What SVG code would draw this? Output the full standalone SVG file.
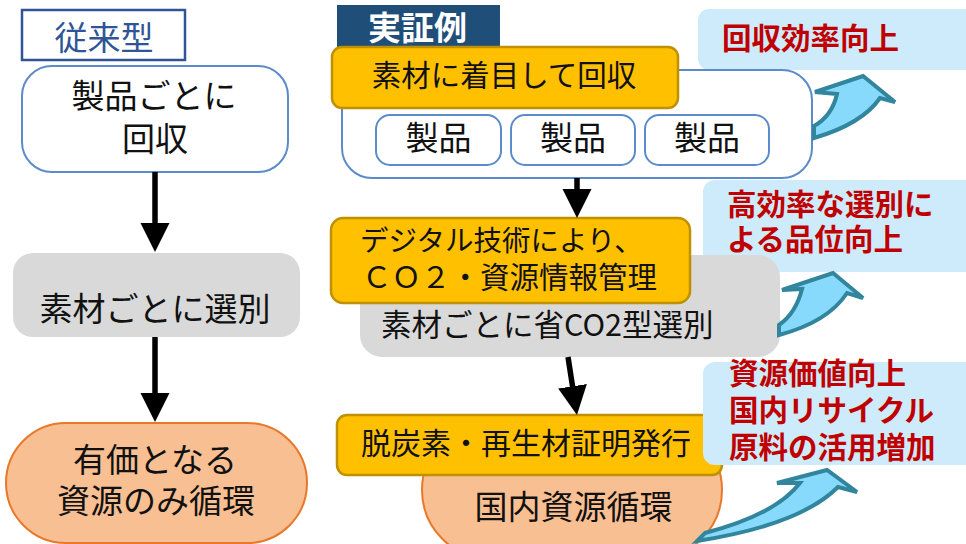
<svg xmlns="http://www.w3.org/2000/svg" width="966" height="544" viewBox="0 0 966 544">
<defs>
<style>
text{font-family:"Noto Sans CJK JP","Noto Sans",sans-serif;fill:#111}
.c{text-anchor:middle}
.callout{fill:#CDEBFA}
.ctext{font-weight:bold;fill:#C00000;font-size:29.5px}
.yel{fill:#FFC000;stroke:#BF9000;stroke-width:2.5}
.blue{fill:#fff;stroke:#5B8BC9;stroke-width:2}
.gray{fill:#D9D9D9}
.orange{fill:#F8BF92;stroke:#E8782A;stroke-width:2}
.conn{stroke:#000;stroke-width:5.5;fill:none}
.curve{fill:#87DAFB;stroke:#31859C;stroke-width:4;stroke-linejoin:miter}
</style>
<marker id="ah" markerUnits="userSpaceOnUse" markerWidth="30" markerHeight="30" refX="9" refY="14.5" orient="auto" viewBox="0 0 30 30">
<path d="M0,0 L29,14.5 L0,29 Z" fill="#000"/>
</marker>
</defs>
<rect width="966" height="544" fill="#fff"/>

<!-- left column -->
<g id="label-conventional">
<rect x="22" y="10" width="163" height="50" fill="#fff" stroke="#2F5597" stroke-width="2.5"/>
<text class="c" x="104" y="50" style="font-size:33px;fill:#2F5597">従来型</text>
</g>
<g id="conv-collect">
<rect class="blue" x="22" y="66" width="266" height="106" rx="30"/>
<text class="c" x="154" y="107.5" font-size="33">製品ごとに</text>
<text class="c" x="155" y="151" font-size="33">回収</text>
</g>
<g id="conv-sort">
<rect class="gray" x="13" y="253" width="287" height="84" rx="20"/>
<text class="c" x="155" y="321" font-size="33">素材ごとに選別</text>
</g>
<g id="conv-cycle">
<rect class="orange" x="6" y="423" width="301" height="120" rx="60"/>
<text class="c" x="155" y="472" font-size="33">有価となる</text>
<text class="c" x="156" y="512.5" font-size="33">資源のみ循環</text>
</g>

<!-- right column -->
<g id="label-demo">
<rect x="337" y="5" width="163" height="44" fill="#1F4E79"/>
<text class="c" x="417.5" y="40" style="font-size:33px;font-weight:bold;fill:#fff">実証例</text>
</g>
<g id="effect-1">
<rect class="callout" x="698" y="9" width="290" height="61" rx="11"/>
<text class="ctext" x="722" y="48.5">回収効率向上</text>
</g>
<g id="effect-2">
<rect class="callout" x="703" y="180" width="290" height="92" rx="12"/>
<text class="ctext" x="727" y="215">高効率な選別に</text>
<text class="ctext" x="727" y="250">よる品位向上</text>
</g>
<g id="demo-collect">
<rect class="blue" x="342" y="70" width="470" height="108" rx="30"/>
<rect class="yel" x="332" y="47" width="346" height="61" rx="10"/>
<text class="c" x="504" y="86" font-size="29.5">素材に着目して回収</text>
</g>
<g id="product-1">
<rect class="blue" x="376" y="115" width="125" height="50" rx="14"/>
<text class="c" x="438.5" y="149.5" font-size="33">製品</text>
</g>
<g id="product-2">
<rect class="blue" x="511" y="115" width="124" height="50" rx="14"/>
<text class="c" x="573" y="149.5" font-size="33">製品</text>
</g>
<g id="product-3">
<rect class="blue" x="645" y="115" width="124" height="50" rx="14"/>
<text class="c" x="707" y="149.5" font-size="33">製品</text>
</g>
<g id="demo-sort">
<rect class="gray" x="360" y="255" width="420" height="102" rx="22"/>
<text x="381" y="335.5" font-size="30.5">素材ごとに省CO2型選別</text>
<rect class="yel" x="331" y="218" width="359" height="85" rx="12"/>
<text x="360" y="250.5" font-size="28.5">デジタル技術により、</text>
<text x="362" y="287.5" font-size="29.5">ＣＯ２・資源情報管理</text>
</g>
<g id="demo-cycle">
<rect class="orange" x="422" y="421" width="300" height="138" rx="69"/>
<text class="c" x="573.5" y="518.5" font-size="33">国内資源循環</text>
<rect class="yel" x="337" y="415" width="385" height="60" rx="10"/>
<text x="361" y="454" font-size="30">脱炭素・再生材証明発行</text>
</g>
<g id="effect-3">
<rect class="callout" x="703" y="362" width="290" height="103" rx="12"/>
<text class="ctext" x="729" y="383.5">資源価値向上</text>
<text class="ctext" x="729" y="421">国内リサイクル</text>
<text class="ctext" x="729" y="457.5">原料の活用増加</text>
</g>

<g id="connectors">
<line class="conn" x1="155" y1="172" x2="155" y2="232" marker-end="url(#ah)"/>
<line class="conn" x1="155" y1="337" x2="155" y2="402" marker-end="url(#ah)"/>
<line class="conn" x1="577" y1="178" x2="577" y2="198" marker-end="url(#ah)"/>
<line class="conn" x1="568" y1="357" x2="573.9" y2="395.2" marker-end="url(#ah)"/>
<path class="curve" d="M814,138 Q862,124 880,98 L895,102 L863,76 L815,92 L837,94 Q832,116 814,126 Z"/>
<path class="curve" d="M779,335 Q828,322 847,293 L863,298 L833,273 L782,290 L802,289 Q796,313 779,325 Z"/>
<path class="curve" d="M697,541 Q800,525 838,487 L857,492 L827,470 L777,483 L800,483 Q775,515 705,533 Z"/>
</g>
</svg>
